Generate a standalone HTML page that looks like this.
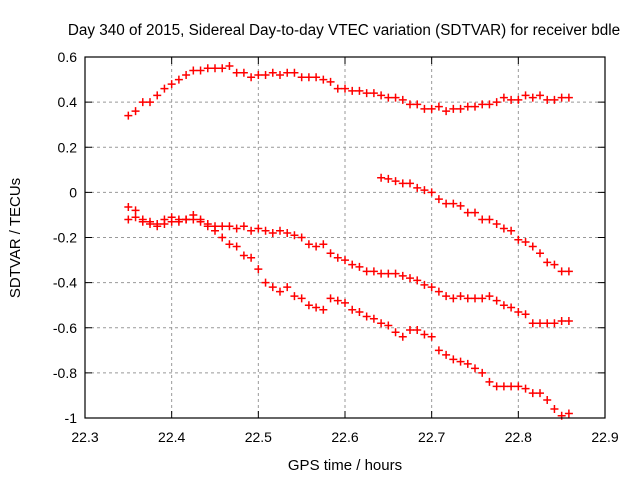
<!DOCTYPE html>
<html><head><meta charset="utf-8"><style>
body{margin:0;background:#fff;font-family:"Liberation Sans",sans-serif}
svg text{font-family:"Liberation Sans",sans-serif;font-size:14px;fill:#000}
</style></head><body>
<svg id="c" width="640" height="480">
<text x="344" y="35" text-anchor="middle" style="font-size:15.3px">Day 340 of 2015, Sidereal Day-to-day VTEC variation (SDTVAR) for receiver bdle</text>
<text transform="translate(20,238) rotate(-90)" text-anchor="middle" style="font-size:15px">SDTVAR / TECUs</text>
<text x="345" y="470" text-anchor="middle" style="font-size:15px">GPS time / hours</text>
<g id="grid"></g><g id="marks"></g>
<rect x="85" y="57" width="520" height="361" fill="none" stroke="#000" stroke-width="1.2"/>
</svg>
<script>
const xTicks=[22.3,22.4,22.5,22.6,22.7,22.8,22.9];
const yTicks=[0.6,0.4,0.2,0,-0.2,-0.4,-0.6,-0.8,-1];
const yTickLabels=["0.6","0.4","0.2","0","-0.2","-0.4","-0.6","-0.8","-1"];
const t0=22.35, dt=1/120;
const seriesA=[0.34,0.36,0.40,0.40,0.43,0.46,0.48,0.50,0.52,0.54,0.54,0.55,0.55,0.55,0.56,0.53,0.53,0.51,0.52,0.52,0.53,0.52,0.53,0.53,0.51,0.51,0.51,0.50,0.49,0.46,0.46,0.45,0.45,0.44,0.44,0.43,0.42,0.42,0.41,0.39,0.39,0.37,0.37,0.38,0.36,0.37,0.37,0.38,0.38,0.39,0.39,0.40,0.42,0.41,0.41,0.43,0.42,0.43,0.41,0.41,0.42,0.42];
const seriesB=[-0.065,-0.08,-0.12,-0.13,-0.14,-0.12,-0.11,-0.12,-0.12,-0.10,-0.12,-0.15,-0.17,-0.20,-0.23,-0.24,-0.28,-0.29,-0.34,-0.40,-0.42,-0.44,-0.42,-0.46,-0.47,-0.50,-0.51,-0.52,-0.47,-0.48,-0.49,-0.52,-0.53,-0.55,-0.56,-0.58,-0.59,-0.62,-0.64,-0.61,-0.61,-0.63,-0.64,-0.70,-0.72,-0.74,-0.75,-0.76,-0.78,-0.80,-0.84,-0.86,-0.86,-0.86,-0.86,-0.87,-0.89,-0.89,-0.92,-0.96,-0.99,-0.98];
const seriesC=[-0.12,-0.11,-0.13,-0.14,-0.15,-0.14,-0.13,-0.13,-0.12,-0.12,-0.13,-0.14,-0.15,-0.15,-0.15,-0.16,-0.15,-0.17,-0.16,-0.17,-0.18,-0.17,-0.18,-0.19,-0.20,-0.23,-0.24,-0.23,-0.27,-0.29,-0.30,-0.32,-0.33,-0.35,-0.35,-0.36,-0.36,-0.36,-0.37,-0.38,-0.39,-0.41,-0.42,-0.44,-0.46,-0.47,-0.46,-0.47,-0.47,-0.47,-0.46,-0.48,-0.50,-0.51,-0.53,-0.54,-0.58,-0.58,-0.58,-0.58,-0.57,-0.57];
const seriesDStart=35;
const seriesD=[0.065,0.06,0.05,0.04,0.04,0.02,0.01,0.00,-0.03,-0.05,-0.05,-0.06,-0.09,-0.09,-0.12,-0.12,-0.14,-0.16,-0.17,-0.21,-0.22,-0.24,-0.27,-0.31,-0.32,-0.35,-0.35];
const X=v=>85+(v-22.3)/0.6*520, Y=v=>57+(0.6-v)/1.6*361;
const NS="http://www.w3.org/2000/svg";
const grid=document.getElementById('grid'), marks=document.getElementById('marks');
function mk(tag,attrs,parent){const e=document.createElementNS(NS,tag);for(const k in attrs)e.setAttribute(k,attrs[k]);parent.appendChild(e);return e;}
xTicks.forEach(v=>{const x=X(v);
 if(v>22.3&&v<22.9){const l=mk('line',{x1:x,x2:x,y1:57,y2:418,stroke:'#999','stroke-dasharray':'3,3'},grid);
 
 }
 mk('line',{x1:x,x2:x,y1:418,y2:411,stroke:'#000'},grid);mk('line',{x1:x,x2:x,y1:57,y2:64,stroke:'#000'},grid);
 const t=mk('text',{x:x,y:442,'text-anchor':'middle'},grid);t.textContent=v.toFixed(1);
 
 });
yTicks.forEach((v,i)=>{const y=Y(v);
 if(i>0&&i<yTicks.length-1){const l=mk('line',{x1:85,x2:605,y1:y,y2:y,stroke:'#999','stroke-dasharray':'3,3'},grid);
 
 }
 mk('line',{x1:85,x2:92,y1:y,y2:y,stroke:'#000'},grid);mk('line',{x1:605,x2:598,y1:y,y2:y,stroke:'#000'},grid);
 const t=mk('text',{x:77,y:y+5,'text-anchor':'end'},grid);t.textContent=yTickLabels[i];
 
 });
function plot(arr,start,name){arr.forEach((v,i)=>{const x=X(t0+(start+i)*dt),y=Y(v);
 const p=mk('path',{d:`M${x-4},${y}h8M${x},${y-4}v8`,stroke:'#f00','stroke-width':1.5},marks);
 
 });}
plot(seriesA,0,'point-series-a');plot(seriesB,0,'point-series-b');plot(seriesC,0,'point-series-c');plot(seriesD,seriesDStart,'point-series-d');
</script>
</body></html>
